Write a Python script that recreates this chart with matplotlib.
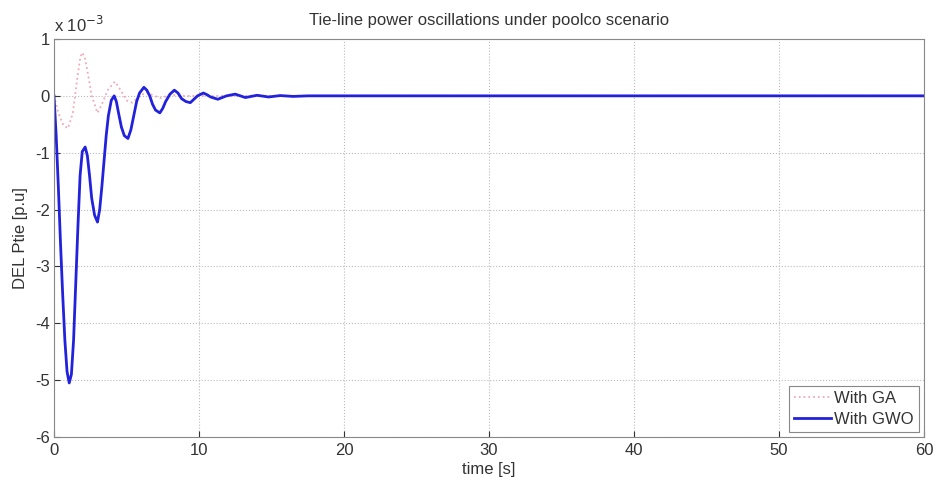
import matplotlib
matplotlib.use("Agg")
import matplotlib.pyplot as plt

plt.rcParams["font.family"] = ["Liberation Sans", "DejaVu Sans"]
plt.rcParams["axes.unicode_minus"] = False

# DEL Ptie values in units of 1e-3 p.u.
t_gwo = [0, 0.15, 0.3, 0.45, 0.6, 0.75, 0.9, 1.05, 1.2, 1.35, 1.5, 1.65, 1.8, 1.95, 2.15,
         2.3, 2.45, 2.6, 2.8, 3.0, 3.15, 3.3, 3.45, 3.6, 3.75, 3.95, 4.15, 4.3, 4.45,
         4.65, 4.85, 5.1, 5.3, 5.5, 5.7, 5.9, 6.2, 6.4, 6.6, 6.8, 7.0, 7.3, 7.5, 7.7,
         8.0, 8.3, 8.55, 8.8, 9.1, 9.4, 9.65, 9.9, 10.3, 10.55, 10.8, 11.3, 11.6,
         11.9, 12.5, 12.85, 13.2, 14.0, 14.8, 15.6, 16.5, 17.5, 18.0, 60.0]
p_gwo = [0, -0.7, -1.6, -2.6, -3.5, -4.3, -4.85, -5.05, -4.9, -4.3, -3.3, -2.3, -1.4, -0.98, -0.9,
         -1.05, -1.4, -1.8, -2.1, -2.22, -2.0, -1.6, -1.15, -0.7, -0.35, -0.08, 0.0, -0.1, -0.3,
         -0.55, -0.7, -0.75, -0.6, -0.35, -0.1, 0.05, 0.15, 0.1, 0.0, -0.15, -0.25, -0.3, -0.22, -0.1,
         0.03, 0.1, 0.05, -0.05, -0.1, -0.12, -0.06, 0.0, 0.05, 0.02, -0.02, -0.06, -0.03,
         0.0, 0.03, 0.0, -0.03, 0.01, -0.02, 0.005, -0.01, 0.0, 0.0, 0.0]

t_ga = [0, 0.3, 0.65, 0.97, 1.3, 1.6, 1.8, 1.93, 2.1, 2.3, 2.6, 3.0, 3.3, 3.7, 4.2,
        4.6, 5.0, 5.4, 5.9, 6.4, 6.9, 7.4, 8.0, 9.0, 60.0]
p_ga = [0, -0.3, -0.52, -0.57, -0.3, 0.3, 0.65, 0.76, 0.7, 0.45, 0.0, -0.3, -0.15, 0.1, 0.25,
        0.1, -0.08, -0.12, 0.0, 0.06, 0.0, -0.04, 0.02, 0.0, 0.0]

x_ticks = [0, 10, 20, 30, 40, 50, 60]
y_ticks = [-6, -5, -4, -3, -2, -1, 0, 1]

txt = "#333333"
fig = plt.figure(figsize=(9.44, 4.82), dpi=100)
ax = fig.add_axes([0.0572, 0.0934, 0.9216, 0.8257])

ax.plot(t_ga, p_ga, ":", color="#eeaab8", linewidth=1.3, label="With GA")
ax.plot(t_gwo, p_gwo, "-", color="#2222dd", linewidth=2.0, label="With GWO")

ax.set_xlim(0, 60)
ax.set_ylim(-6, 1)
ax.set_xticks(x_ticks)
ax.set_yticks(y_ticks)
ax.tick_params(direction="in", labelsize=12, colors=txt, length=4)
ax.tick_params(axis="x", pad=4)
ax.tick_params(axis="y", pad=3)
ax.grid(True, linestyle=":", color="#bbbbbb", linewidth=0.8)
for s in ax.spines.values():
    s.set_color("#888888")

ax.set_title("Tie-line power oscillations under poolco scenario", fontsize=12, color=txt, pad=10)
ax.set_xlabel("time [s]", fontsize=12, color=txt, labelpad=3)
ax.set_ylabel("DEL Ptie [p.u]", fontsize=12, color=txt, labelpad=5)
ax.text(0.0, 1.01, "x 10$^{-3}$", transform=ax.transAxes, fontsize=12,
        color=txt, ha="left", va="bottom")

leg = ax.legend(loc="lower right", fontsize=12, fancybox=False, framealpha=1,
                edgecolor="#888888", borderaxespad=0.3, handlelength=2.2,
                handletextpad=0.2, labelspacing=0.35, borderpad=0.3)
leg.get_frame().set_linewidth(0.8)
for tx in leg.get_texts():
    tx.set_color(txt)

fig.savefig("out.png", dpi=100)
